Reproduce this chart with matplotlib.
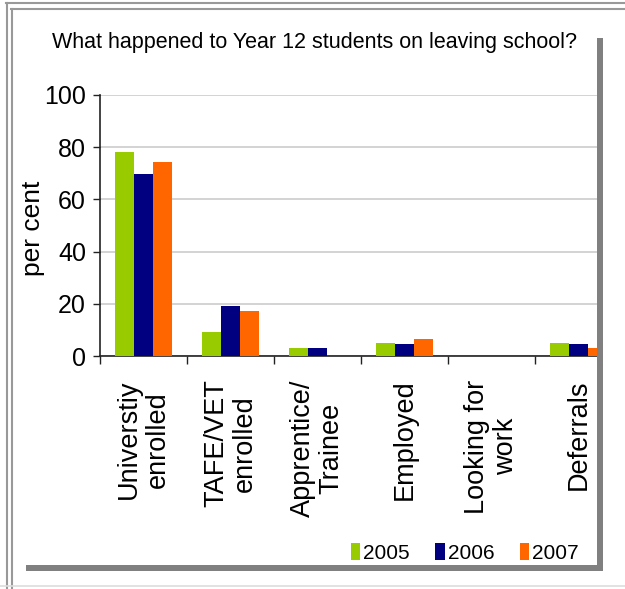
import matplotlib
matplotlib.use("Agg")
import matplotlib.pyplot as plt
from matplotlib.patches import Rectangle, Patch
from matplotlib.lines import Line2D
import numpy as np

categories = ["Universtiy\nenrolled", "TAFE/VET\nenrolled", "Apprentice/\nTrainee",
              "Employed", "Looking for\nwork", "Deferrals"]
years = ["2005", "2006", "2007"]
v2005 = [78.3, 9.3, 3.0, 4.9, 0.0, 4.9]
v2006 = [69.7, 19.2, 3.0, 4.5, 0.0, 4.5]
v2007 = [74.2, 17.2, 0.0, 6.4, 0.0, 3.0]
colors = ["#99CC00", "#000080", "#FF6600"]
yticks = [0, 20, 40, 60, 80, 100]

font = "Liberation Sans"

W, H = 625, 589
fig = plt.figure(figsize=(W / 100, H / 100), dpi=100)

def fx(x):
    return x / W

def fy(y):
    return 1 - y / H

ax = fig.add_axes([fx(100), fy(356), fx(597) - fx(100), fy(95) - fy(356)])
x = np.arange(len(categories))
bw = 0.222
for i, (vals, c) in enumerate(zip([v2005, v2006, v2007], colors)):
    ax.bar(x + (i - 1) * bw, vals, width=bw, color=c, zorder=3, label=years[i])

ax.set_yticks(yticks)
ax.set_yticklabels([str(t) for t in yticks], fontfamily=font, fontsize=18)
ax.yaxis.grid(True, color="#cccccc", linewidth=1.2, zorder=0)
ax.set_axisbelow(True)
for s in ["top", "right"]:
    ax.spines[s].set_visible(False)
for s in ["left", "bottom"]:
    ax.spines[s].set_color("#222222")
    ax.spines[s].set_linewidth(1.2)
ax.tick_params(axis="y", direction="out", length=5, width=1.0, color="#222222", pad=5)

ax.set_xticks(x)
ax.set_xticklabels(categories, rotation=90, fontfamily=font, fontsize=19.5,
                   ha="center", va="top", multialignment="center", linespacing=1.12)
ax.tick_params(axis="x", length=0, pad=17)
ax.set_xticks(np.arange(-0.5, 6.0, 1.0), minor=True)
ax.tick_params(axis="x", which="minor", direction="out", length=6, width=1.0, color="#222222")
ax.set_xlim(-0.5, -0.5 + 497 / 87)
ax.set_ylim(0, 100)

fig.text(fx(315), fy(48), "What happened to Year 12 students on leaving school?",
         ha="center", va="baseline", fontfamily=font, fontsize=15.5)
fig.text(fx(33), fy(228), "per cent", rotation=90, ha="center", va="center",
         fontfamily=font, fontsize=19)

handles = [Patch(facecolor=c, edgecolor="none") for c in colors]
fig.legend(handles, years, loc="lower right", bbox_to_anchor=(fx(581), fy(565)),
           ncol=3, frameon=False, prop={"family": font, "size": 15},
           handlelength=0.45, handleheight=0.9, handletextpad=0.15, columnspacing=1.22,
           borderaxespad=0, borderpad=0.1)

# frame lines
fig.add_artist(Line2D([fx(6), fx(625)], [fy(3), fy(3)], color="#999999", lw=1.5))
fig.add_artist(Line2D([fx(11), fx(625)], [fy(9), fy(9)], color="#999999", lw=1.5))
fig.add_artist(Line2D([fx(7), fx(7)], [fy(3), fy(589)], color="#999999", lw=1.5))
fig.add_artist(Line2D([fx(12), fx(12)], [fy(9), fy(589)], color="#999999", lw=1.5))
fig.add_artist(Line2D([fx(0), fx(625)], [fy(586), fy(586)], color="#dddddd", lw=1.2))
# shadow
fig.add_artist(Rectangle((fx(597), fy(571)), fx(603) - fx(597), fy(38) - fy(571),
                         transform=fig.transFigure, facecolor="#808080", edgecolor="none"))
fig.add_artist(Rectangle((fx(26), fy(571)), fx(603) - fx(26), fy(565) - fy(571),
                         transform=fig.transFigure, facecolor="#808080", edgecolor="none"))

fig.savefig("out.png", dpi=100)
